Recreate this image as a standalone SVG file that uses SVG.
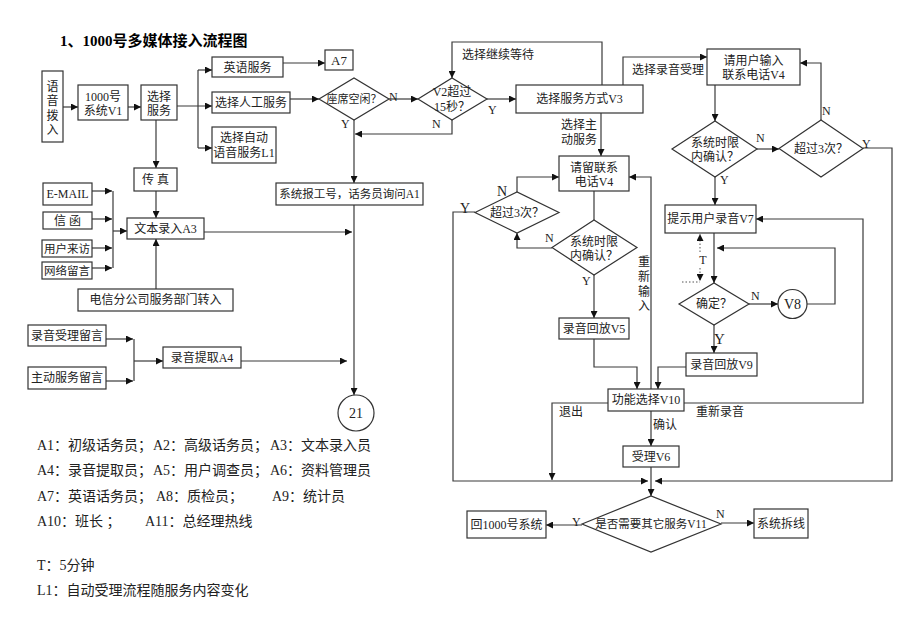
<svg xmlns="http://www.w3.org/2000/svg" width="920" height="637" viewBox="0 0 920 637">
<defs>
<marker id="ah" viewBox="0 0 10 10" refX="10" refY="5" markerWidth="8" markerHeight="7" orient="auto" markerUnits="userSpaceOnUse"><path d="M0,0 L10,5 L0,10 z" fill="#111"/></marker>
<style>
.bx{fill:#fff;stroke:#333;stroke-width:1.2}
.ln{fill:none;stroke:#3a3a3a;stroke-width:1.2}
.dt{fill:none;stroke:#555;stroke-width:1;stroke-dasharray:1.5,2}
text{font-family:"Liberation Serif","Noto Sans CJK SC",serif;font-size:12px;fill:#222}
.c{text-anchor:middle}
.lg{font-size:14px}
</style>
</defs>
<rect width="920" height="637" fill="#fff"/>
<text x="60" y="46" style="font-size:15px;font-weight:bold;fill:#000">1、1000号多媒体接入流程图</text>

<g id="connectors">
<path class="ln" d="M63,107 H78" marker-end="url(#ah)"/>
<path class="ln" d="M128,107 H141" marker-end="url(#ah)"/>
<path class="ln" d="M177,106 H212" marker-end="url(#ah)"/>
<path class="ln" d="M198,70 V148"/>
<path class="ln" d="M198,70 H212" marker-end="url(#ah)"/>
<path class="ln" d="M198,148 H212" marker-end="url(#ah)"/>
<path class="ln" d="M283,63 H325" marker-end="url(#ah)"/>
<path class="ln" d="M290,99 H319" marker-end="url(#ah)"/>
<path class="ln" d="M389,99 H418" marker-end="url(#ah)"/>
<path class="ln" d="M487,99 H516" marker-end="url(#ah)"/>
<path class="ln" d="M602,85 V42 H452 V78" marker-end="url(#ah)"/>
<path class="ln" d="M452,120 V134 H355" marker-end="url(#ah)"/>
<path class="ln" d="M354,120 V183" marker-end="url(#ah)"/>
<path class="ln" d="M156,120 V168" marker-end="url(#ah)"/>
<path class="ln" d="M156,191 V218" marker-end="url(#ah)"/>
<path class="ln" d="M156,289 V239" marker-end="url(#ah)"/>
<path class="ln" d="M92,191 H112" marker-end="url(#ah)"/>
<path class="ln" d="M92,219 H112" marker-end="url(#ah)"/>
<path class="ln" d="M92,248 H112" marker-end="url(#ah)"/>
<path class="ln" d="M92,268 H112" marker-end="url(#ah)"/>
<path class="ln" d="M113,191 V268"/>
<path class="ln" d="M113,231 H127" marker-end="url(#ah)"/>
<path class="ln" d="M204,232 H352" marker-end="url(#ah)"/>
<path class="ln" d="M354,205 V395" marker-end="url(#ah)"/>
<path class="ln" d="M106,339 H133" marker-end="url(#ah)"/>
<path class="ln" d="M106,381 H133" marker-end="url(#ah)"/>
<path class="ln" d="M134,339 V381"/>
<path class="ln" d="M134,361 H163" marker-end="url(#ah)"/>
<path class="ln" d="M241,361 H347" marker-end="url(#ah)"/>

<path class="ln" d="M623,85 V57 H707" marker-end="url(#ah)"/>
<path class="ln" d="M601,113 V156" marker-end="url(#ah)"/>
<path class="ln" d="M715,85 V121" marker-end="url(#ah)"/>
<path class="ln" d="M757,149 H779" marker-end="url(#ah)"/>
<path class="ln" d="M821,120 V63 H800" marker-end="url(#ah)"/>
<path class="ln" d="M863,148 H892 V481 H655" marker-end="url(#ah)"/>
<path class="ln" d="M715,177 V205" marker-end="url(#ah)"/>
<path class="ln" d="M714,233 V283" marker-end="url(#ah)"/>
<path class="ln" d="M749,304 H778" marker-end="url(#ah)"/>
<path class="ln" d="M807,304 H835 V248 H717" marker-end="url(#ah)"/>
<path class="ln" d="M714,325 V353" marker-end="url(#ah)"/>
<path class="ln" d="M686,367 H658 V389" marker-end="url(#ah)"/>
<path class="ln" d="M684,403 H863 V219 H756" marker-end="url(#ah)"/>
<path class="dt" d="M700,252 V234" marker-end="url(#ah)"/>
<path class="dt" d="M700,268 V281" marker-end="url(#ah)"/>
<path class="dt" d="M682,282 H700"/>
<path class="ln" d="M594,191 V220"/>
<path class="ln" d="M552,248 H517 V233" marker-end="url(#ah)"/>
<path class="ln" d="M517,192 V177 H559" marker-end="url(#ah)"/>
<path class="ln" d="M475,212 H453 V481 H648" marker-end="url(#ah)"/>
<path class="ln" d="M594,275 V318" marker-end="url(#ah)"/>
<path class="ln" d="M594,339 V367 H637 V389" marker-end="url(#ah)"/>
<path class="ln" d="M651,389 V177 H629" marker-end="url(#ah)"/>
<path class="ln" d="M608,403 H552 V480" marker-end="url(#ah)"/>
<path class="ln" d="M651,411 V446" marker-end="url(#ah)"/>
<path class="ln" d="M651,467 V496" marker-end="url(#ah)"/>
<path class="ln" d="M582,525 H546" marker-end="url(#ah)"/>
<path class="ln" d="M721,523 H754" marker-end="url(#ah)"/>
</g>

<g id="labels">
<text x="389" y="101">N</text>
<text x="341" y="128">Y</text>
<text x="432" y="128">N</text>
<text x="488" y="114">Y</text>
<text x="462" y="59">选择继续等待</text>
<text x="632" y="74">选择录音受理</text>
<text x="561" y="129">选择主</text>
<text x="561" y="144">动服务</text>
<text x="756" y="142">N</text>
<text x="822" y="115">N</text>
<text x="862" y="148">Y</text>
<text x="720" y="184">Y</text>
<text x="703" y="264" class="c">T</text>
<text x="751" y="300">N</text>
<text x="714" y="344" style="font-size:15px">Y</text>
<text x="497" y="196" style="font-size:14px">N</text>
<text x="460" y="213" style="font-size:14px">Y</text>
<text x="545" y="242">N</text>
<text x="582" y="285">Y</text>
<text x="644" y="266" class="c">重</text>
<text x="644" y="281" class="c">新</text>
<text x="644" y="296" class="c">输</text>
<text x="644" y="310" class="c">入</text>
<text x="559" y="416">退出</text>
<text x="696" y="416">重新录音</text>
<text x="653" y="429">确认</text>
<text x="572" y="526">Y</text>
<text x="716" y="518">N</text>
</g>

<g id="n_voice"><rect class="bx" x="42" y="71" width="21" height="71"/>
<text x="52.5" y="91" class="c">语</text><text x="52.5" y="105" class="c">音</text><text x="52.5" y="120" class="c">拨</text><text x="52.5" y="134" class="c">入</text></g>
<g id="n_v1"><rect class="bx" x="78" y="85" width="50" height="35"/><text x="103" y="101" class="c">1000号</text><text x="103" y="115" class="c">系统V1</text></g>
<g id="n_select"><rect class="bx" x="141" y="85" width="36" height="35"/><text x="159" y="101" class="c">选择</text><text x="159" y="115" class="c">服务</text></g>
<g id="n_eng"><rect class="bx" x="212" y="57" width="71" height="20"/><text x="247.5" y="71.5" class="c">英语服务</text></g>
<g id="n_manual"><rect class="bx" x="212" y="92" width="78" height="21"/><text x="251" y="107" class="c">选择人工服务</text></g>
<g id="n_auto"><rect class="bx" x="212" y="127" width="64" height="36"/><text x="244" y="142" class="c">选择自动</text><text x="244" y="157" class="c">语音服务L1</text></g>
<g id="n_a7"><rect class="bx" x="325" y="50" width="28" height="20"/><text x="339" y="65" class="c" style="font-size:13px">A7</text></g>
<g id="n_seat"><path class="bx" d="M319,99 L354,78 L389,99 L354,120 Z"/><text x="354" y="103" class="c" style="font-size:11px">座席空闲？</text></g>
<g id="n_v2"><path class="bx" d="M418,99 L452,78 L487,99 L452,120 Z"/><text x="452" y="96" class="c">V2超过</text><text x="452" y="111" class="c">15秒？</text></g>
<g id="n_v3"><rect class="bx" x="516" y="85" width="127" height="28"/><text x="579.5" y="103" class="c">选择服务方式V3</text></g>
<g id="n_a1"><rect class="bx" x="276" y="183" width="147" height="22"/><text x="349.5" y="198" class="c" style="font-size:11.5px">系统报工号，话务员询问A1</text></g>
<g id="n_fax"><rect class="bx" x="134" y="168" width="43" height="23"/><text x="155.5" y="184" class="c">传 真</text></g>
<g id="n_a3"><rect class="bx" x="127" y="218" width="77" height="21"/><text x="165.5" y="233" class="c">文本录入A3</text></g>
<g id="n_email"><rect class="bx" x="43" y="183" width="49" height="22"/><text x="67.5" y="198" class="c">E-MAIL</text></g>
<g id="n_letter"><rect class="bx" x="43" y="212" width="49" height="17"/><text x="67.5" y="225" class="c">信 函</text></g>
<g id="n_visit"><rect class="bx" x="42" y="240" width="50" height="17"/><text x="67" y="253" class="c" style="font-size:11.5px">用户来访</text></g>
<g id="n_web"><rect class="bx" x="42" y="262" width="50" height="17"/><text x="67" y="275" class="c" style="font-size:11.5px">网络留言</text></g>
<g id="n_telecom"><rect class="bx" x="78" y="289" width="155" height="22"/><text x="155.5" y="304" class="c">电信分公司服务部门转入</text></g>
<g id="n_rec1"><rect class="bx" x="28" y="325" width="78" height="21"/><text x="67" y="340" class="c">录音受理留言</text></g>
<g id="n_rec2"><rect class="bx" x="28" y="367" width="78" height="22"/><text x="67" y="382" class="c">主动服务留言</text></g>
<g id="n_a4"><rect class="bx" x="163" y="347" width="78" height="21"/><text x="202" y="362" class="c">录音提取A4</text></g>
<g id="n_21"><circle class="bx" cx="356" cy="413" r="18"/><text x="356" y="418" class="c" style="font-size:14px">21</text></g>

<g id="n_v4a"><rect class="bx" x="707" y="49" width="93" height="36"/><text x="753.5" y="65" class="c">请用户输入</text><text x="753.5" y="79" class="c">联系电话V4</text></g>
<g id="n_check1"><path class="bx" d="M672,149 L715,121 L757,149 L715,177 Z"/><text x="715" y="147" class="c">系统时限</text><text x="715" y="161" class="c">内确认？</text></g>
<g id="n_over1"><path class="bx" d="M779,148.5 L821,120 L863,148.5 L821,177 Z"/><text x="821" y="153" class="c">超过3次？</text></g>
<g id="n_v7"><rect class="bx" x="665" y="205" width="91" height="28"/><text x="710.5" y="223" class="c">提示用户录音V7</text></g>
<g id="n_confirm"><path class="bx" d="M679,304 L714,283 L749,304 L714,325 Z"/><text x="714" y="308" class="c">确定？</text></g>
<g id="n_v8"><circle class="bx" cx="792.5" cy="304" r="14.5"/><text x="792.5" y="309" class="c" style="font-size:14px">V8</text></g>
<g id="n_v9"><rect class="bx" x="686" y="353" width="71" height="23"/><text x="721.5" y="369" class="c">录音回放V9</text></g>
<g id="n_v4b"><rect class="bx" x="559" y="156" width="70" height="35"/><text x="594" y="172" class="c">请留联系</text><text x="594" y="186" class="c">电话V4</text></g>
<g id="n_check2"><path class="bx" d="M552,247.5 L594,220 L637,247.5 L594,275 Z"/><text x="594" y="246" class="c">系统时限</text><text x="594" y="260" class="c">内确认？</text></g>
<g id="n_over2"><path class="bx" d="M475,212.5 L517,192 L559,212.5 L517,233 Z"/><text x="517" y="217" class="c">超过3次？</text></g>
<g id="n_v5"><rect class="bx" x="559" y="318" width="70" height="21"/><text x="594" y="333" class="c">录音回放V5</text></g>
<g id="n_v10"><rect class="bx" x="608" y="389" width="76" height="22"/><text x="646" y="404" class="c">功能选择V10</text></g>
<g id="n_v6"><rect class="bx" x="623" y="446" width="56" height="21"/><text x="651" y="461" class="c">受理V6</text></g>
<g id="n_v11"><path class="bx" d="M582,524 L651,496 L721,524 L651,552 Z"/><text x="651" y="528" class="c" style="font-size:11.5px">是否需要其它服务V11</text></g>
<g id="n_back"><rect class="bx" x="467" y="511" width="79" height="27"/><text x="506.5" y="529" class="c">回1000号系统</text></g>
<g id="n_hang"><rect class="bx" x="754" y="509" width="54" height="29"/><text x="781" y="528" class="c">系统拆线</text></g>

<g id="legend" class="lg">
<text class="lg" y="450"><tspan x="37">A1：初级话务员；</tspan><tspan x="153">A2：高级话务员；</tspan><tspan x="270">A3：文本录入员</tspan></text>
<text class="lg" y="475"><tspan x="37">A4：录音提取员；</tspan><tspan x="153">A5：用户调查员；</tspan><tspan x="270">A6：资料管理员</tspan></text>
<text class="lg" y="501"><tspan x="37">A7：英语话务员；</tspan><tspan x="156">A8：质检员；</tspan><tspan x="272">A9：统计员</tspan></text>
<text class="lg" y="526"><tspan x="37">A10：班长 ；</tspan><tspan x="145">A11：总经理热线</tspan></text>
<text class="lg" x="37" y="570">T：5分钟</text>
<text class="lg" x="37" y="595">L1：自动受理流程随服务内容变化</text>
</g>
</svg>
